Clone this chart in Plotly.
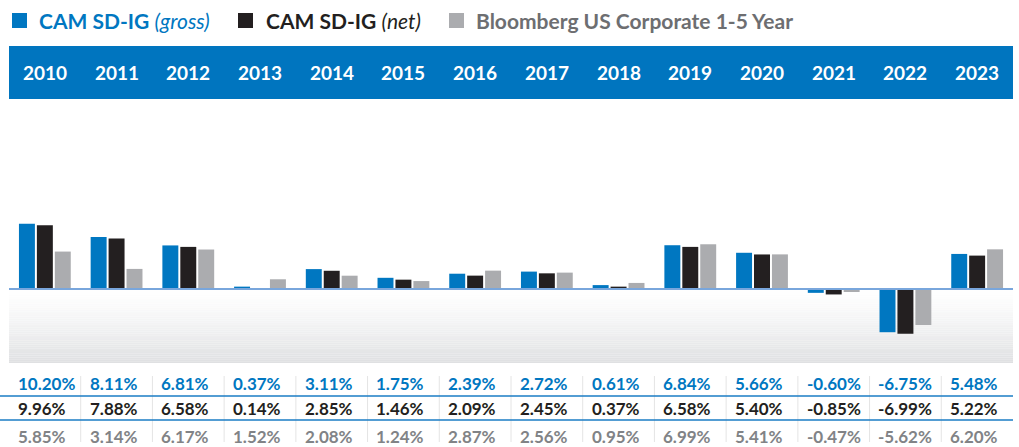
import plotly.graph_objects as go
import numpy as np

years = ["2010", "2011", "2012", "2013", "2014", "2015", "2016", "2017", "2018", "2019", "2020", "2021", "2022", "2023"]
gross = [10.20, 8.11, 6.81, 0.37, 3.11, 1.75, 2.39, 2.72, 0.61, 6.84, 5.66, -0.60, -6.75, 5.48]
net = [9.96, 7.88, 6.58, 0.14, 2.85, 1.46, 2.09, 2.45, 0.37, 6.58, 5.40, -0.85, -6.99, 5.22]
bench = [5.85, 3.14, 6.17, 1.52, 2.08, 1.24, 2.87, 2.56, 0.95, 6.99, 5.41, -0.47, -5.62, 6.20]

BLUE = "#0077c1"
BLACK = "#231f20"
GRAY = "#abacaf"
TXT_GRAY = "#818386"
FONT = "Lato"

W, H = 1019, 447
L, R, T, B = 9, 6, 100, 84
PH = H - T - B
PW = W - L - R
YMIN, YMAX = -11.56, 29.53


def px(p):
    return (p - L) / PW


def py(p):
    return (H - B - p) / PH


fig = go.Figure()
for name, vals, col in [("CAM SD-IG (gross)", gross, BLUE), ("CAM SD-IG (net)", net, BLACK),
                        ("Bloomberg US Corporate 1-5 Year", bench, GRAY)]:
    fig.add_trace(go.Bar(x=list(range(len(years))), y=vals, name=name,
                         marker=dict(color=col, line=dict(width=0)), showlegend=False))

shapes = []
annotations = []

# gradient area below zero
N = 40
c0 = np.array([255, 255, 255])
c1 = np.array([223, 224, 226])
for i in range(N):
    t = (i + 0.5) / N
    c = (c0 + (c1 - c0) * t ** 1.3).astype(int)
    shapes.append(dict(type="rect", xref="paper", yref="y", x0=0, x1=1,
                       y0=YMIN * i / N, y1=YMIN * (i + 1) / N,
                       fillcolor=f"rgb({c[0]},{c[1]},{c[2]})", line=dict(width=0), layer="below"))
# zero line
shapes.append(dict(type="line", xref="paper", yref="y", x0=0, x1=1, y0=0, y1=0,
                   line=dict(color="#79a6dc", width=2), layer="above"))

# header band
shapes.append(dict(type="rect", xref="paper", yref="paper", x0=0, x1=1, y0=py(99), y1=py(46),
                   fillcolor="#0075bf", line=dict(width=0)))
for i, yr in enumerate(years):
    annotations.append(dict(x=i, xref="x", yref="paper", y=py(73), text=f"<b>{yr}</b>",
                            showarrow=False, xanchor="center", yanchor="middle",
                            font=dict(family=FONT, size=19, color="white")))

# legend
leg = [(12, BLUE, BLUE, "<b>CAM SD-IG</b> <i>(gross)</i>", 37),
       (238, BLACK, BLACK, "<b>CAM SD-IG</b> <i>(net)</i>", 264),
       (449, GRAY, "#6d6e71", "<b>Bloomberg US Corporate 1-5 Year</b>", 474)]
for sx, sc, tc, txt, tx in leg:
    shapes.append(dict(type="rect", xref="paper", yref="paper", x0=px(sx), x1=px(sx + 15),
                       y0=py(28), y1=py(13), fillcolor=sc, line=dict(width=0)))
    annotations.append(dict(x=px(tx), y=py(20.5), xref="paper", yref="paper", text=txt,
                            showarrow=False, xanchor="left", yanchor="middle",
                            font=dict(family=FONT, size=21, color=tc)))

# table
rows = [(gross, BLUE, 383), (net, BLACK, 408), (bench, TXT_GRAY, 436)]
for vals, col, yp in rows:
    for i, v in enumerate(vals):
        annotations.append(dict(x=i, xref="x", yref="paper", y=py(yp), text=f"<b>{v:.2f}%</b>",
                                showarrow=False, xanchor="left", yanchor="middle", xshift=-29,
                                font=dict(family=FONT, size=17, color=col)))
for yl in (396, 420):
    shapes.append(dict(type="line", xref="paper", yref="paper", x0=px(0), x1=1,
                       y0=py(yl), y1=py(yl), line=dict(color="#1a7cc4", width=1.5)))
for i in range(len(years) - 1):
    shapes.append(dict(type="line", xref="x", yref="paper", x0=i + 0.5, x1=i + 0.5,
                       y0=py(376), y1=py(442), line=dict(color="#e4e4e4", width=1), layer="below"))

fig.update_layout(
    width=W, height=H,
    margin=dict(l=L, r=R, t=T, b=B, pad=0, autoexpand=False),
    paper_bgcolor="white", plot_bgcolor="rgba(0,0,0,0)",
    barmode="group", bargap=0.25, bargroupgap=0.11,
    xaxis=dict(range=[-0.5, len(years) - 0.5], showticklabels=False, showgrid=False,
               zeroline=False, showline=False, ticks="", fixedrange=True),
    yaxis=dict(range=[YMIN, YMAX], showticklabels=False, showgrid=False, zeroline=False,
               showline=False, ticks="", fixedrange=True),
    shapes=shapes, annotations=annotations,
)

fig.write_html("out.html", config={"displayModeBar": False},
               post_script="document.body.style.margin='0';document.body.style.overflow='hidden';")
